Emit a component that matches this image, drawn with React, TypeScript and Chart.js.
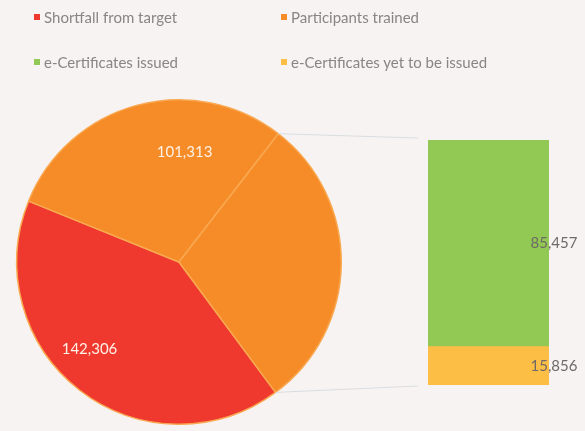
import React, { useEffect, useRef } from "react";
import { Chart, registerables } from "chart.js";

Chart.register(...registerables);

// ---- data ----
const pieLabels = ["Shortfall from target", "Participants trained"];
const pieValues = [142306, 101313];
const barLabels = ["e-Certificates issued", "e-Certificates yet to be issued"];
const barValues = [85457, 15856];
const legendLabels = [
  "Shortfall from target",
  "Participants trained",
  "e-Certificates issued",
  "e-Certificates yet to be issued",
];

// ---- styles ----
const RED = "#EF392E";
const ORANGE = "#F68C28";
const GREEN = "#92C854";
const YELLOW = "#FDBE46";
const BG = "#F7F3F3";
const legendColors = [RED, ORANGE, GREEN, YELLOW];
const barColors = [GREEN, YELLOW];
const FONT = "Lato, 'Open Sans', sans-serif";
const W = 585;
const H = 431;

const fmt = (v: number) => v.toLocaleString("en-US");

export default function App() {
  const pieRef = useRef<HTMLCanvasElement>(null);
  const barRef = useRef<HTMLCanvasElement>(null);

  useEffect(() => {
    const otherValue = barValues.reduce((a, b) => a + b, 0);
    const pieData = [...pieValues, otherValue];
    const pieColors = [RED, ORANGE, ORANGE];
    const pieLabelShift = [8, 18, 0]; // degrees, label angle tweak
    const pieLabelFrac = [0.77, 0.68, 0];

    const pie = new Chart(pieRef.current!, {
      type: "pie",
      data: {
        labels: [...pieLabels, "Other"],
        datasets: [
          {
            data: pieData,
            backgroundColor: pieColors,
            borderColor: "#F9A850",
            borderWidth: 1.5,
          },
        ],
      },
      options: {
        animation: false,
        responsive: false,
        rotation: 143.5,
        layout: { padding: { left: 16, top: 99, right: W - 342, bottom: H - 425 } },
        plugins: { legend: { display: false }, tooltip: { enabled: false } },
      },
      plugins: [
        {
          id: "pieLabels",
          afterDatasetsDraw(chart: any) {
            const ctx = chart.ctx;
            const meta = chart.getDatasetMeta(0);
            ctx.save();
            ctx.font = `15px ${FONT}`;
            ctx.fillStyle = "#FFF1E6";
            ctx.textAlign = "center";
            ctx.textBaseline = "middle";
            meta.data.forEach((arc: any, i: number) => {
              if (i >= pieValues.length) return;
              const p = arc.getProps(["x", "y", "startAngle", "endAngle", "outerRadius"], true);
              const mid = (p.startAngle + p.endAngle) / 2 + (pieLabelShift[i] * Math.PI) / 180;
              const r = p.outerRadius * pieLabelFrac[i];
              ctx.fillText(fmt(pieValues[i]), p.x + Math.cos(mid) * r, p.y + Math.sin(mid) * r);
            });
            ctx.restore();
          },
        },
      ],
    });

    // stack bottom-up: yet-to-be-issued first, issued on top
    const order = [1, 0];
    const bar = new Chart(barRef.current!, {
      type: "bar",
      data: {
        labels: [""],
        datasets: order.map((i) => ({
          label: barLabels[i],
          data: [barValues[i]],
          backgroundColor: barColors[i],
          barPercentage: 1,
          categoryPercentage: 1,
        })),
      },
      options: {
        animation: false,
        responsive: false,
        layout: { padding: { left: 428, right: W - 549, top: 140, bottom: H - 385 } },
        scales: {
          x: { stacked: true, display: false },
          y: { stacked: true, display: false, min: 0, max: otherValue },
        },
        plugins: { legend: { display: false }, tooltip: { enabled: false } },
      },
      plugins: [
        {
          id: "connectors",
          afterDatasetsDraw(chart: any) {
            const ctx = chart.ctx;
            const pm = pie.getDatasetMeta(0);
            const other = pm.data[2] as any;
            const p = other.getProps(["x", "y", "startAngle", "endAngle", "outerRadius"], true);
            const topEl = chart.getDatasetMeta(1).data[0] as any;
            const botEl = chart.getDatasetMeta(0).data[0] as any;
            const tp = topEl.getProps(["x", "y", "base", "width"], true);
            const bp = botEl.getProps(["x", "y", "base", "width"], true);
            const barLeft = tp.x - tp.width / 2 - 10;
            ctx.save();
            ctx.strokeStyle = "#D9DCE0";
            ctx.lineWidth = 1;
            ctx.beginPath();
            ctx.moveTo(p.x + Math.cos(p.startAngle) * p.outerRadius, p.y + Math.sin(p.startAngle) * p.outerRadius);
            ctx.lineTo(barLeft, tp.y - 2);
            ctx.moveTo(p.x + Math.cos(p.endAngle) * p.outerRadius, p.y + Math.sin(p.endAngle) * p.outerRadius);
            ctx.lineTo(barLeft, bp.base + 1);
            ctx.stroke();

            ctx.font = `15px ${FONT}`;
            ctx.fillStyle = "#6E6A66";
            ctx.textAlign = "center";
            ctx.textBaseline = "middle";
            order.forEach((vi, di) => {
              const q = (chart.getDatasetMeta(di).data[0] as any).getProps(["x", "y", "base", "width"], true);
              ctx.fillText(fmt(barValues[vi]), q.x + q.width / 2 + 5, (q.y + q.base) / 2);
            });
            ctx.restore();
          },
        },
      ],
    });

    return () => {
      bar.destroy();
      pie.destroy();
    };
  }, []);

  const abs: React.CSSProperties = { position: "absolute", left: 0, top: 0 };
  const legendPos = [
    { left: 34, top: 17 },
    { left: 281, top: 17 },
    { left: 34, top: 62 },
    { left: 281, top: 62 },
  ];

  return (
    <div style={{ position: "fixed", left: 0, top: 0, width: W, height: H, background: BG, overflow: "hidden" }}>
      <canvas ref={pieRef} width={W} height={H} style={abs} />
      <canvas ref={barRef} width={W} height={H} style={abs} />
      {legendLabels.map((l, i) => (
        <div
          key={l}
          style={{
            position: "absolute",
            left: legendPos[i].left,
            top: legendPos[i].top - 10,
            height: 20,
            display: "flex",
            alignItems: "center",
            fontFamily: FONT,
            fontSize: 15,
            color: "#8A8583",
            whiteSpace: "nowrap",
          }}
        >
          <span style={{ width: 6, height: 6, background: legendColors[i], marginRight: 4, display: "inline-block" }} />
          {l}
        </div>
      ))}
    </div>
  );
}
